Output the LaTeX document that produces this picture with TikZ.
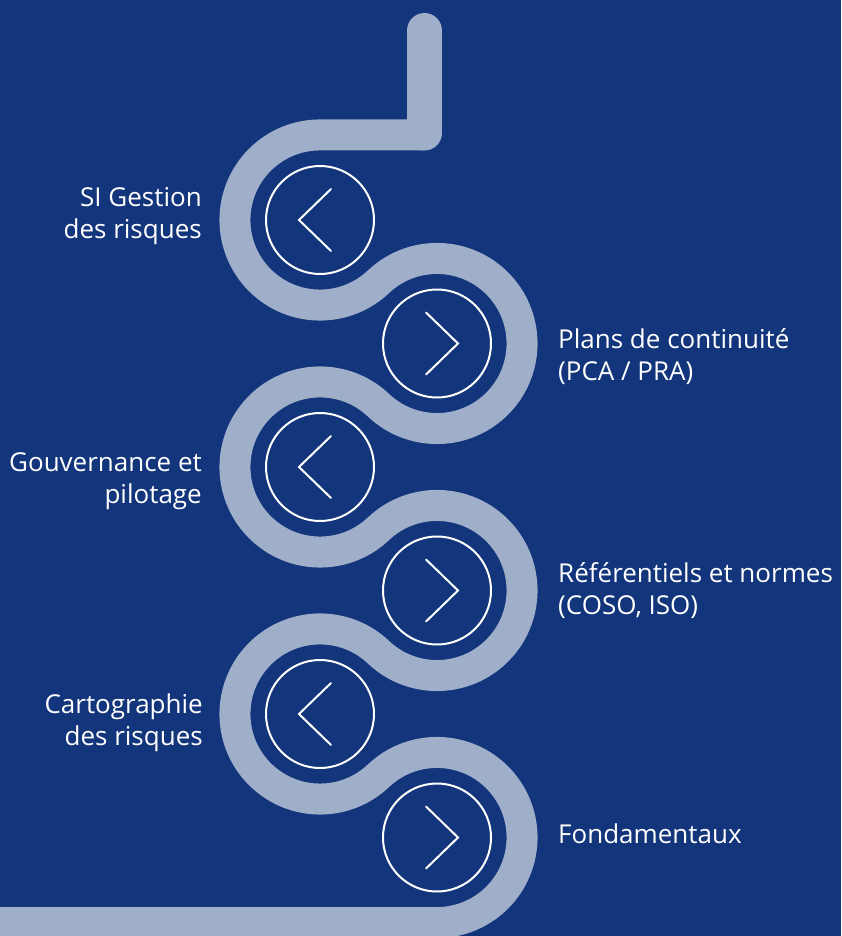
\documentclass[tikz,border=0pt]{standalone}
\usepackage{fontspec}
\setmainfont{Open Sans}
\definecolor{fond}{HTML}{13357B}
\definecolor{piste}{HTML}{9FAEC9}
\begin{document}
\begin{tikzpicture}[x=1pt, y=-1pt,
    piste/.style={draw=piste, line width=31pt, line join=round},
    rond/.style={circle, draw=white, line width=2pt, minimum size=108pt, inner sep=0pt},
    chevron/.style={draw=white, line width=2pt, line cap=round},
    etiquette/.style={text=white, inner sep=0pt, font=\fontsize{26}{31.5}\selectfont}]
  \fill[fond] (0,0) rectangle (841,936);
  \useasboundingbox (0,0) rectangle (841,936);
  \foreach \i/\xx/\yy in {1/320/220, 2/437/343.5, 3/320/467, 4/437/590.5, 5/320/714, 6/437/837.5}
    \node[rond] (r\i) at (\xx,\yy) {};
  % la piste
  \draw[piste] (424.5,134.94) -- ([shift={(-90:85.06)}]r1.center)
    arc[start angle=-90, end angle=-313.45, radius=85.06]
    arc[start angle=226.55, end angle=493.45, radius=85.06]
    arc[start angle=-46.55, end angle=-313.45, radius=85.06]
    arc[start angle=226.55, end angle=493.45, radius=85.06]
    arc[start angle=-46.55, end angle=-313.45, radius=85.06]
    arc[start angle=226.55, end angle=450, radius=85.06]
    -- (-10,922.56);
  \draw[piste, line width=35pt, line cap=round] (424.5,30.5) -- (424.5,133);
  % chevrons
  \foreach \i in {1,3,5}
    \draw[chevron] ([shift={(11,-31)}]r\i.center) -- ([shift={(-21,0)}]r\i.center) -- ([shift={(11,31)}]r\i.center);
  \foreach \i in {2,4,6}
    \draw[chevron] ([shift={(-11,-31)}]r\i.center) -- ([shift={(21,0)}]r\i.center) -- ([shift={(-11,31)}]r\i.center);
  % textes
  \node[etiquette, anchor=base east, align=right] (t1) at (202,238) {SI Gestion\\des risques};
  \node[etiquette, anchor=base west, align=left] (t2) at (558,380) {Plans de continuité\\(PCA / PRA)};
  \node[etiquette, anchor=base east, align=right] (t3) at (202,503) {Gouvernance et\\pilotage};
  \node[etiquette, anchor=base west, align=left] (t4) at (558,614) {Référentiels et normes\\(COSO, ISO)};
  \node[etiquette, anchor=base east, align=right] (t5) at (203,745) {Cartographie\\des risques};
  \node[etiquette, anchor=base west] (t6) at (558,843) {Fondamentaux};
\end{tikzpicture}
\end{document}
